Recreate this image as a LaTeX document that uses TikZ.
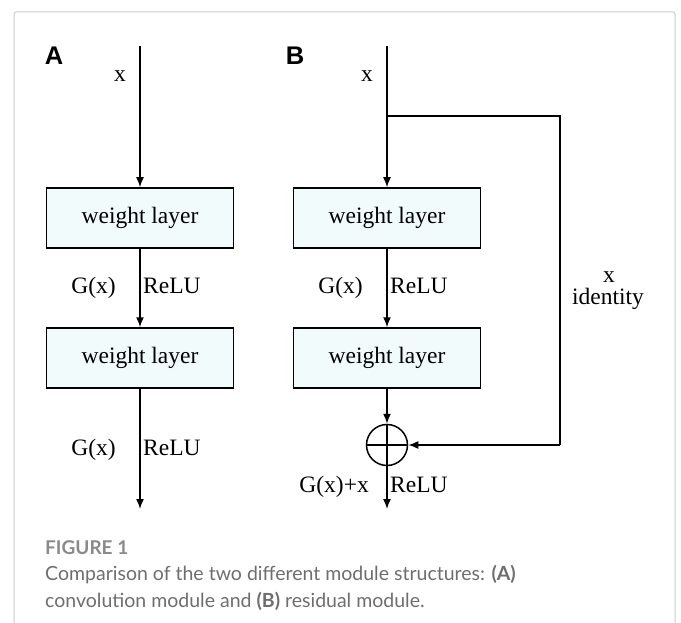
\documentclass[tikz,border=0pt]{standalone}
\usepackage{fontspec}
\setmainfont{Liberation Serif}
\newfontfamily\capfont{Lato}
\newfontfamily\labfont{Liberation Sans}
\usetikzlibrary{arrows.meta}
\definecolor{boxfill}{HTML}{F2FBFB}
\definecolor{framegray}{HTML}{CCCCCC}
\definecolor{figgray}{HTML}{8A8A8A}
\definecolor{capgray}{HTML}{6E6E6E}
\tikzset{
  wbox/.style={draw=black, fill=boxfill, line width=1.5pt, minimum width=187pt, minimum height=60pt, inner sep=0pt, font=\fontsize{23.5}{26}\selectfont},
  conn/.style={line width=1.5pt, -{Latex[length=10pt,width=8pt]}},
  wire/.style={line width=1.5pt},
  lbl/.style={anchor=base, inner sep=0pt, font=\fontsize{23.5}{26}\selectfont},
  panel/.style={anchor=base, inner sep=0pt, font=\labfont\bfseries\fontsize{25.5}{28}\selectfont},
  sumnode/.style={draw, circle, line width=1.5pt, minimum size=41pt, inner sep=0pt,
    path picture={\draw[line width=1.5pt] (path picture bounding box.north) -- (path picture bounding box.south) (path picture bounding box.west) -- (path picture bounding box.east);}}
}
\begin{document}
\begin{tikzpicture}[x=1pt,y=-1pt]
\useasboundingbox (0,0) rectangle (681,623);
\draw[framegray, line width=1pt, rounded corners=2pt] (14,623) -- (14,12) -- (675,12) -- (675,623);

% Panel A
\node[panel] (labA) at (54,65) {A};
\coordinate (topA) at (140,46);
\node[wbox] (a1) at (140,218) {weight layer};
\node[wbox] (a2) at (140,358) {weight layer};
\coordinate (outA) at (140,509);
\draw[conn] (topA) -- (a1.north);
\draw[conn] (a1.south) -- (a2.north);
\draw[conn] (a2.south) -- (outA);
\node[lbl] (xA) at (120,82) {x};
\node[lbl, anchor=base east] (gA1) at (116,294) {G(x)};
\node[lbl, anchor=base west] (rA1) at (143,294) {ReLU};
\node[lbl, anchor=base east] (gA2) at (116,455) {G(x)};
\node[lbl, anchor=base west] (rA2) at (143,455) {ReLU};

% Panel B
\node[panel] (labB) at (295,65) {B};
\coordinate (topB) at (387,46);
\coordinate (split) at (387,116);
\coordinate (rt) at (560,116);
\coordinate (rb) at (560,445);
\node[wbox] (b1) at (387,218) {weight layer};
\node[wbox] (b2) at (387,358) {weight layer};
\node[sumnode] (sum) at (387,445) {};
\coordinate (outB) at (387,509);
\draw[conn] (topB) -- (b1.north);
\draw[wire] (split) -- (rt) -- (rb);
\draw[conn] (rb) -- (sum.east);
\draw[conn] (b1.south) -- (b2.north);
\draw[conn] (b2.south) -- (sum.north);
\draw[conn] (sum.south) -- (outB);
\node[lbl] (xB) at (367,82) {x};
\node[lbl, anchor=base east] (gB1) at (363,294) {G(x)};
\node[lbl, anchor=base west] (rB1) at (390,294) {ReLU};
\node[lbl, anchor=base east] (gB2) at (369,492) {G(x)+x};
\node[lbl, anchor=base west] (rB2) at (390,492) {ReLU};
\node[lbl] (xid) at (609,283) {x};
\node[lbl] (idl) at (608,305) {identity};

% Caption
\node[anchor=base west, inner sep=0pt, text=figgray, font=\capfont\bfseries\fontsize{19}{22}\selectfont] (fig) at (45,554) {FIGURE 1};
\node[anchor=base west, inner sep=0pt, text=capgray, font=\capfont\fontsize{19.5}{22}\selectfont] (cap1) at (45,580) {Comparison of the two different module structures: {\bfseries (A)}};
\node[anchor=base west, inner sep=0pt, text=capgray, font=\capfont\fontsize{19.5}{22}\selectfont] (cap2) at (45,607) {convolution module and {\bfseries (B)} residual module.};
\end{tikzpicture}
\end{document}
